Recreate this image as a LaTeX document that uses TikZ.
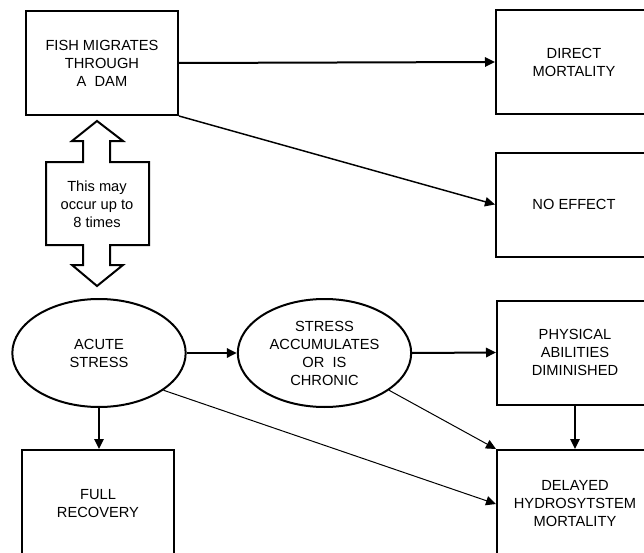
\documentclass[tikz,border=0pt]{standalone}
\usepackage{fontspec}
\setmainfont{Liberation Sans}
\usetikzlibrary{arrows.meta,shapes.geometric}
\def\labelfont{\fontsize{11}{13.5}\selectfont}
\tikzset{
	stagebox/.style={draw, line width=1.5pt, minimum width=114pt, minimum height=78pt, inner sep=0pt, align=center, font=\labelfont},
	sidebox/.style={stagebox, minimum width=117pt, anchor=west},
	stressoval/.style={draw, ellipse, line width=1.5pt, minimum width=130pt, minimum height=81pt, inner sep=0pt, align=center, font=\labelfont},
	flowarrow/.style={line width=1.5pt, -{Triangle[length=7.5pt,width=7pt]}},
	thinarrow/.style={line width=0.75pt, -{Triangle[length=7.5pt,width=7pt]}}
}

\begin{document}
\begin{tikzpicture}[x=0.75pt, y=-0.75pt]
			%%%%% START %%%%%
			
			\fill[white] (0, 0) rectangle (644, 553);
			\useasboundingbox (0, 0) rectangle (644, 553);
			
			\node[stagebox, anchor=north west] (fish) at (25, 10) {FISH MIGRATES\\THROUGH\\A~~DAM};
			\node[sidebox] (direct) at (495, 62) {DIRECT\\MORTALITY};
			\node[sidebox] (noeffect) at (495, 204.5) {NO EFFECT};
			
			\draw[line width=1.5pt] (97, 121) -- (123, 141) -- (110, 141) -- (110, 162) -- (149, 162) -- (149, 245) -- (110, 245) -- (110, 265) -- (123, 265) -- (97, 286) -- (72, 265) -- (83, 265) -- (83, 245) -- (46, 245) -- (46, 162) -- (83, 162) -- (83, 141) -- (72, 141) -- cycle;
			\node[align=center, font=\labelfont] (repeat) at (97, 204) {This may\\occur up to\\8 times};
			
			\node[stressoval] (acute) at (99, 353) {ACUTE\\STRESS};
			\node[stressoval] (chronic) at (324.5, 353) {STRESS\\ACCUMULATES\\OR~~IS\\CHRONIC};
			\node[sidebox] (physical) at (496, 352.5) {PHYSICAL\\ABILITIES\\DIMINISHED};
			
			\node[stagebox, anchor=north west, minimum height=81pt] (full) at (21, 449) {FULL\\RECOVERY};
			\node[sidebox, anchor=north west, minimum height=81pt] (delayed) at (496, 449) {DELAYED\\HYDROSYTSTEM\\MORTALITY};
			
			\draw[flowarrow] (fish.east) -- (direct.west);
			\draw[line width=1.1pt, -{Triangle[length=7.5pt,width=7pt]}] (fish.south east) -- (noeffect.west);
			
			\draw[flowarrow] (acute.east) -- (chronic.west);
			\draw[flowarrow] (chronic.east) -- (physical.west);
			\draw[flowarrow] (acute.south) -- (acute.south |- full.north);
			\draw[flowarrow] (physical.south) -- (delayed.north);
			\draw[thinarrow] (acute.-30) -- (delayed.west);
			\draw[thinarrow] (chronic.-30) -- (delayed.north west);
			
			%%%%% END %%%%%
\end{tikzpicture}
\end{document}
